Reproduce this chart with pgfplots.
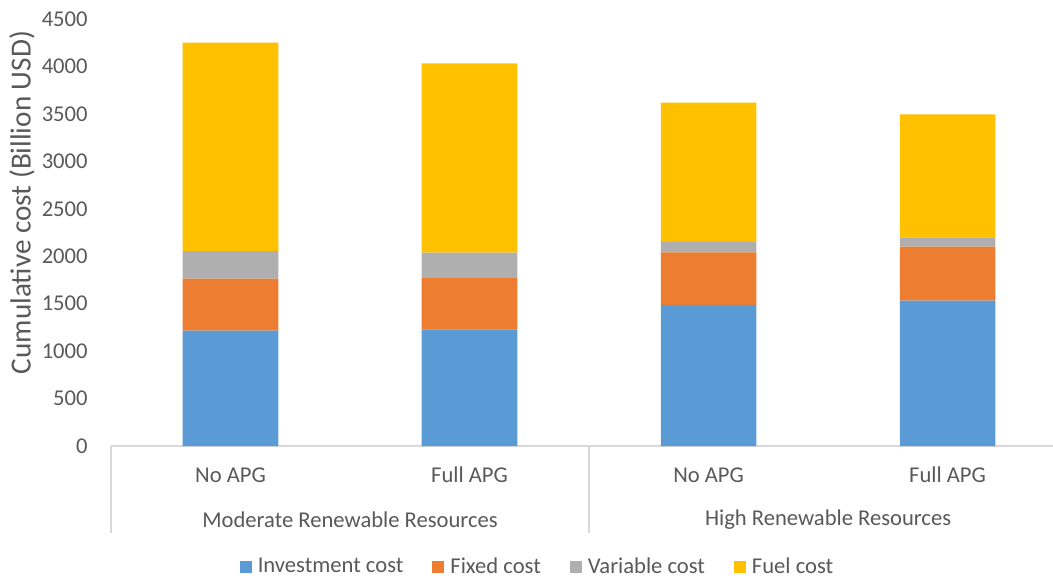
\documentclass[border=0pt]{standalone}
\usepackage{pgfplots}
\usepackage{pgfplotstable}
\pgfplotsset{compat=1.18}
\usepackage{fontspec}
\setmainfont{Carlito}
\definecolor{cinv}{HTML}{5B9BD5}
\definecolor{cfix}{HTML}{ED7D31}
\definecolor{cvar}{HTML}{AFAFAF}
\definecolor{cfuel}{HTML}{FFC000}
\definecolor{ctext}{HTML}{595959}
\definecolor{cline}{HTML}{D9D9D9}
\pgfplotstableread{
x inv fix var fuel
0 1215 548 292 2195
1 1230 548 259 1996
2 1486 555 109 1468
3 1531 569 99 1297
}\costs
\begin{document}
\begin{tikzpicture}
\path[use as bounding box] (-55.5bp,-66bp) rectangle (471bp,223bp);
\begin{axis}[
  at={(0,0)}, anchor=south west,
  scale only axis, width=471bp, height=213.5bp,
  xmin=-0.5, xmax=3.441, ymin=0, ymax=4500,
  ybar stacked, bar width=0.4,
  axis x line*=bottom, axis y line*=left,
  x axis line style={draw=cline, -, line width=0.8bp},
  y axis line style={draw=none},
  major tick length=0pt,
  xtick={0,1,2,3},
  xticklabels={No APG,Full APG,No APG,Full APG},
  ytick={0,500,...,4500},
  /pgf/number format/assume math mode=true,
  /pgf/number format/1000 sep={},
  tick label style={font=\fontsize{11.3bp}{13bp}\selectfont, text=ctext},
  xticklabel style={anchor=center, yshift=-14.5bp},
  yticklabel style={anchor=east, inner sep=0pt, xshift=-11.5bp},
  clip=false,
  legend style={at={(axis description cs:0.4533,-0.2834)}, anchor=center, draw=none,
    font=\fontsize{11.3bp}{13bp}\selectfont, text=ctext, legend columns=4,
    nodes={inner xsep=1.5bp},
    /tikz/every even column/.append style={column sep=13bp}},
  legend image code/.code={\fill[#1] (0bp,-3bp) rectangle (6bp,3bp); \path (7.5bp,0bp);},
]
\addplot[fill=cinv, draw=none] table[x=x, y=inv] {\costs};
\addplot[fill=cfix, draw=none] table[x=x, y=fix] {\costs};
\addplot[fill=cvar, draw=none] table[x=x, y=var] {\costs};
\addplot[fill=cfuel, draw=none] table[x=x, y=fuel] {\costs};
\legend{Investment cost, Fixed cost, Variable cost, Fuel cost}
\draw[cline, line width=0.8bp] (axis cs:-0.5,0) -- ([yshift=-43.5bp]axis cs:-0.5,0);
\draw[cline, line width=0.8bp] (axis cs:1.5,0) -- ([yshift=-43.5bp]axis cs:1.5,0);
\node[font=\fontsize{11.3bp}{13bp}\selectfont, text=ctext, anchor=center] at ([yshift=-37bp]axis cs:0.5,0) {Moderate Renewable Resources};
\node[font=\fontsize{11.3bp}{13bp}\selectfont, text=ctext, anchor=center] at ([yshift=-37bp]axis cs:2.5,0) {High Renewable Resources};
\end{axis}
\node[rotate=90, font=\fontsize{14.6bp}{16bp}\selectfont, text=ctext, anchor=center] at (-44.5bp,121.75bp) {Cumulative cost (Billion USD)};
\end{tikzpicture}
\end{document}
